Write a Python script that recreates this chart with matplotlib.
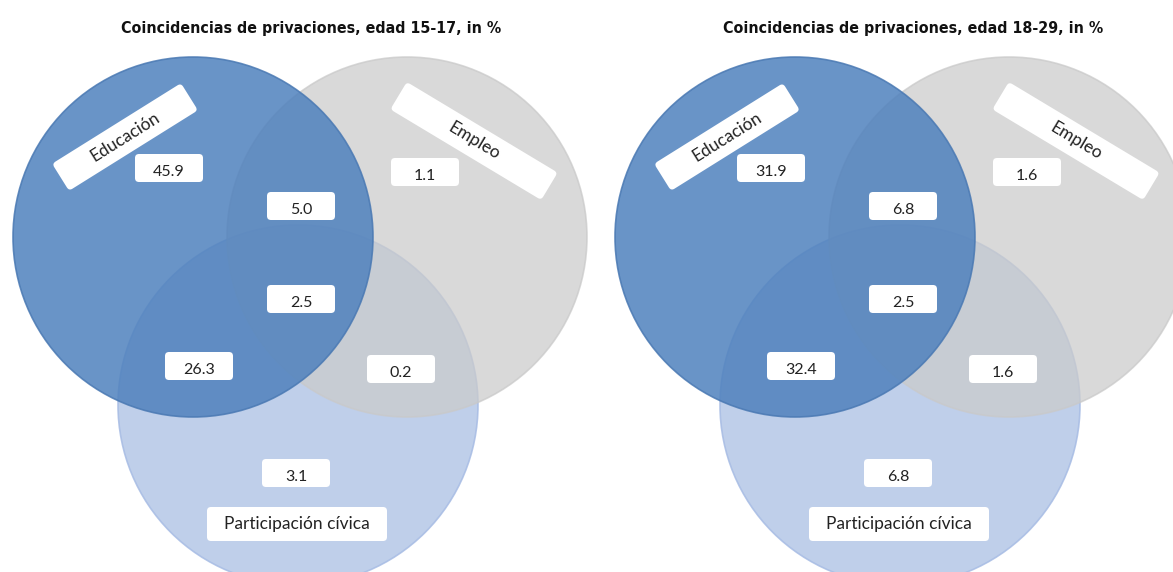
import matplotlib
matplotlib.use("Agg")
import matplotlib.pyplot as plt
from matplotlib import font_manager as fm
from matplotlib.patches import Circle, FancyBboxPatch
from matplotlib.transforms import Affine2D

# ------------------------------------------------------------
# Data
# ------------------------------------------------------------
titles = [
    "Coincidencias de privaciones, edad 15-17, in %",
    "Coincidencias de privaciones, edad 18-29, in %",
]
set_names = ["Educación", "Empleo", "Participación cívica"]
# regions: edu only, emp only, edu&emp, all three, edu&civ, emp&civ, civ only
region_keys = ["edu", "emp", "edu_emp", "all", "edu_civ", "emp_civ", "civ"]
vals_15_17 = [45.9, 1.1, 5.0, 2.5, 26.3, 0.2, 3.1]
vals_18_29 = [31.9, 1.6, 6.8, 2.5, 32.4, 1.6, 6.8]
panel_values = [vals_15_17, vals_18_29]

# ------------------------------------------------------------
# Layout (pixels, y from top)
# ------------------------------------------------------------
W, H = 1173, 572
panel_dx = [0, 602]
R = 180
circles = {
    "edu": ((193, 237), "#4f81bd", 0.85, "#4a79b3"),
    "emp": ((407, 237), "#cbcbcb", 0.73, "#c9c9c9"),
    "civ": ((298, 405), "#b4c7e7", 0.85, "#a7bce4"),
}
draw_order = ["civ", "emp", "edu"]

region_pos = {
    "edu": (169, 168),
    "emp": (425, 172),
    "edu_emp": (301, 206),
    "all": (301, 299),
    "edu_civ": (199, 366),
    "emp_civ": (401, 369),
    "civ": (296, 473),
}
val_box = (68, 28)

# name label: centre, angle (screen, ccw), box size
name_pos = [
    ((125, 137), 32, (152, 32)),
    ((474, 141), -31, (176, 32)),
    ((297, 524), 0, (180, 34)),
]
title_width_px = 378


# ------------------------------------------------------------
# Title font: look for a narrow bold face, otherwise Roboto bold
# ------------------------------------------------------------
def pick_title_font():
    for f in fm.fontManager.ttflist:
        narrow = ("Narrow" in f.name or "Condensed" in f.name
                  or "Narrow" in f.fname or "Condensed" in f.fname
                  or f.stretch in ("condensed", "semi-condensed"))
        bold = (f.weight in ("bold", 700) or "Bold" in f.fname)
        if narrow and bold and "Oblique" not in f.fname and "Italic" not in f.fname:
            return fm.FontProperties(fname=f.fname, size=13)
    return fm.FontProperties(family=["Roboto", "DejaVu Sans"],
                             weight="bold", size=11.8)


title_fp = pick_title_font()

fig = plt.figure(figsize=(W / 100, H / 100), dpi=100)
ax = fig.add_axes([0, 0, 1, 1])
ax.set_xlim(0, W)
ax.set_ylim(H, 0)
ax.axis("off")

label_font = ["Lato", "DejaVu Sans"]


def rounded_box(cx, cy, w, h, angle=0):
    box = FancyBboxPatch((cx - w / 2, cy - h / 2), w, h,
                         boxstyle="round,pad=0,rounding_size=4",
                         fc="white", ec="none", zorder=5)
    # y axis is inverted, so flip the rotation sign for data space
    box.set_transform(Affine2D().rotate_deg_around(cx, cy, -angle) + ax.transData)
    ax.add_patch(box)


title_texts = []
for p, (dx, vals) in enumerate(zip(panel_dx, panel_values)):
    # circles
    for key in draw_order:
        (cx, cy), col, alpha, ec = circles[key]
        ax.add_patch(Circle((cx + dx, cy), R, fc=col, alpha=alpha,
                            ec=ec, lw=1.2, zorder=1))

    # title
    t = ax.text(311 + dx, 28, titles[p], ha="center", va="center",
                fontproperties=title_fp.copy(), color="#111111")
    title_texts.append(t)

    # region values
    for key, v in zip(region_keys, vals):
        x, y = region_pos[key]
        rounded_box(x + dx, y, *val_box)
        ax.text(x + dx, y + 4, f"{v:.1f}", ha="center", va="center",
                fontsize=11.5, family=label_font, color="#222222", zorder=6)

    # set names
    for name, ((x, y), ang, (bw, bh)) in zip(set_names, name_pos):
        rounded_box(x + dx, y, bw, bh, ang)
        ax.text(x + dx, y, name, ha="center", va="center", rotation=ang,
                rotation_mode="anchor", fontsize=12.5, family=label_font,
                color="#222222", zorder=6)

# shrink the titles to the width they take in the original
fig.canvas.draw()
renderer = fig.canvas.get_renderer()
for t in title_texts:
    w = t.get_window_extent(renderer).width
    t.set_fontsize(t.get_fontsize() * title_width_px / w)

fig.savefig("out.png", dpi=100)
